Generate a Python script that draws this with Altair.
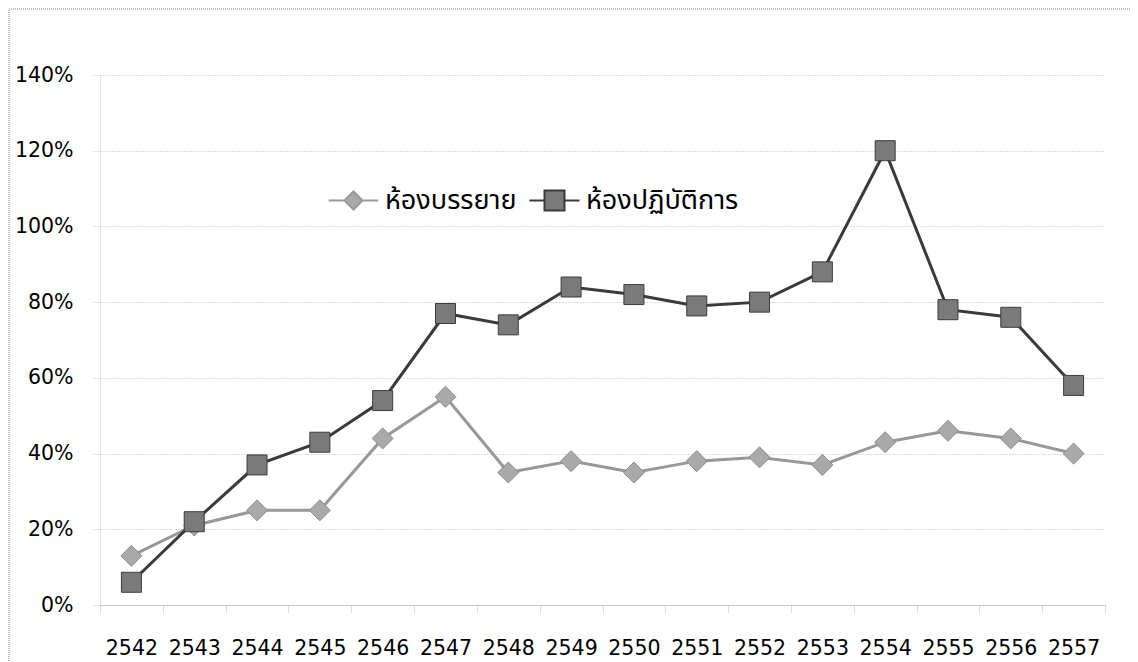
import altair as alt
import pandas as pd

years = ["2542", "2543", "2544", "2545", "2546", "2547", "2548", "2549",
         "2550", "2551", "2552", "2553", "2554", "2555", "2556", "2557"]
lecture = [13, 21, 25, 25, 44, 55, 35, 38, 35, 38, 39, 37, 43, 46, 44, 40]
lab = [6, 22, 37, 43, 54, 77, 74, 84, 82, 79, 80, 88, 120, 78, 76, 58]
series_names = ["ห้องบรรยาย", "ห้องปฏิบัติการ"]
y_ticks = [0, 20, 40, 60, 80, 100, 120, 140]

rows = []
for i, yr in enumerate(years):
    rows.append({"year": yr, "series": series_names[0], "value": lecture[i] / 100})
    rows.append({"year": yr, "series": series_names[1], "value": lab[i] / 100})
df = pd.DataFrame(rows)

FONT = "DejaVu Sans"
THAI = "Tahoma, Noto Sans Thai, Loma, Garuda, Noto Sans, sans-serif"

x_enc = alt.X("year:N", sort=years, title=None,
              scale=alt.Scale(paddingInner=0, paddingOuter=0),
              axis=alt.Axis(labelAngle=0, labelFont=FONT, labelFontSize=20.5,
                            labelColor="#000", labelPadding=25,
                            tickBand="extent", tickSize=8, tickColor="#bbb",
                            tickDash=[1, 1], domainColor="#aaa", domainDash=[1, 1],
                            grid=False))
y_enc = alt.Y("value:Q", title=None,
              scale=alt.Scale(domain=[0, 1.4], nice=False),
              axis=alt.Axis(values=[v / 100 for v in y_ticks], format=".0%",
                            labelFont=FONT, labelFontSize=20.5, labelColor="#000",
                            labelPadding=19, tickSize=8, tickColor="#ccc",
                            tickDash=[1, 1], domainColor="#ccc", domainDash=[1, 1],
                            gridColor="#bbb", gridDash=[1, 2], gridWidth=1))

styles = {
    series_names[0]: dict(line="#989898", fill="#a9a9a9", stroke="#8c8c8c",
                          shape="diamond", size=440,
                          sym="M-2.75,0H-1M1,0H2.75M0,-1L1,0L0,1L-1,0Z",
                          symsize=324, lx=240, lbl=18),
    series_names[1]: dict(line="#3a3a3a", fill="#7a7a7a", stroke="#3c3c3c",
                          shape="square", size=400,
                          sym="M-2.5,0H-1M1,0H2.5M-1,-1H1V1H-1Z",
                          symsize=400, lx=441, lbl=18),
}

layers = []
border = alt.Chart(pd.DataFrame({"a": [0]})).mark_rect(
    fill=None, stroke="#aaa", strokeDash=[1, 1], strokeWidth=1.5
).encode(x=alt.value(-91), x2=alt.value(1200), y=alt.value(-66), y2=alt.value(800))
layers.append(border)

for idx, s in enumerate(series_names):
    st = styles[s]
    base = alt.Chart(df).transform_filter(alt.datum.series == s)
    line = base.mark_line(color=st["line"], strokeWidth=3).encode(x=x_enc, y=y_enc)
    pts = base.mark_point(shape=st["shape"], filled=True, size=st["size"],
                          stroke=st["stroke"], strokeWidth=1, opacity=1).encode(
        x=x_enc, y=y_enc,
        color=alt.Color("series:N",
                        scale=alt.Scale(domain=[s], range=[st["fill"]]),
                        legend=alt.Legend(title=None, orient="none",
                                          legendX=st["lx"], legendY=112,
                                          symbolType=st["sym"],
                                          symbolSize=st["symsize"],
                                          symbolStrokeColor=st["line"],
                                          symbolStrokeWidth=2,
                                          labelOffset=st["lbl"],
                                          labelFont=THAI, labelFontSize=27,
                                          labelColor="#000",
                                          labelLimit=400)))
    layers.append(line)
    layers.append(pts)

chart = alt.layer(*layers).resolve_scale(color="independent").resolve_legend(
    color="independent"
).properties(
    width=1005, height=530,
    padding={"left": 92, "top": 67, "right": 25, "bottom": 56},
    autosize=alt.AutoSizeParams(type="none"),
    background="white",
).configure_view(stroke=None)

chart.save("out.html", embed_options={"renderer": "svg", "actions": False})
